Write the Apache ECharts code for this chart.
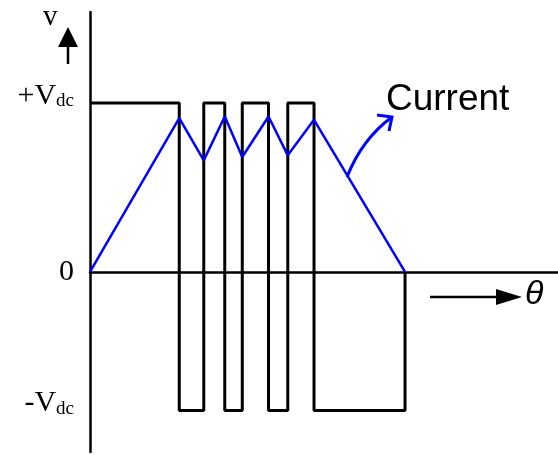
<!DOCTYPE html>
<html>
<head>
<meta charset="utf-8">
<script src="https://cdn.jsdelivr.net/npm/echarts@6.0.0/dist/echarts.min.js"></script>
<style>
  html, body { margin: 0; padding: 0; background: #fff; }
  #chart { width: 558px; height: 455px; }
</style>
</head>
<body>
<div id="chart"></div>
<script>
// switching angles (x units) and the inverter output level between them
const switchAngles = [0, 51, 65, 77, 87, 102, 113, 128, 180]
const voltageLevels = [1, -0.82, 1, -0.82, 1, -0.82, 1, -0.82]

// current waveform corners
const currentAngles = [0, 51, 65, 77, 87, 102, 113, 128, 180]
const currentValues = [0, 0.91, 0.66, 0.92, 0.68, 0.92, 0.69, 0.90, 0]

// y tick positions and labels
const yTickValues = [1, 0, -0.82]
const yTickLabels = ['+V|dc', '0', '-V|dc']

const voltageData = []
for (let i = 0; i < voltageLevels.length; i++) {
  voltageData.push([switchAngles[i], voltageLevels[i]])
  voltageData.push([switchAngles[i + 1], voltageLevels[i]])
}
voltageData.push([switchAngles[switchAngles.length - 1], 0])

const currentData = currentAngles.map((a, i) => [a, currentValues[i]])

const chart = echarts.init(document.getElementById('chart'))

chart.setOption({
  animation: false,
  grid: { left: 90, right: 0, top: 12, bottom: 3 },
  xAxis: {
    type: 'value',
    min: 0,
    max: 267.4,
    axisLine: { onZero: true, lineStyle: { color: '#000', width: 2.5 } },
    axisTick: { show: false },
    axisLabel: { show: false },
    splitLine: { show: false }
  },
  yAxis: {
    type: 'value',
    min: -1.065,
    max: 1.538,
    axisLine: { show: true, onZero: false, lineStyle: { color: '#000', width: 2.5 } },
    axisTick: { show: false },
    splitLine: { show: false },
    axisLabel: {
      customValues: yTickValues,
      margin: 16,
      formatter: (value) => {
        const label = yTickLabels[yTickValues.indexOf(value)]
        if (label === '0') return '{n|0}'
        const parts = label.split('|')
        return '{a|' + parts[0] + '}{b|' + parts[1] + '}'
      },
      rich: {
        n: { fontFamily: 'Liberation Serif', fontSize: 30, color: '#000' },
        a: { fontFamily: 'Liberation Serif', fontSize: 30, color: '#000', verticalAlign: 'bottom', padding: [0, 0, 14, 0] },
        b: { fontFamily: 'Liberation Serif', fontSize: 19, color: '#000', verticalAlign: 'bottom', padding: [0, 0, 14, 0] }
      }
    }
  },
  series: [
    {
      name: 'Voltage',
      type: 'line',
      data: voltageData,
      symbol: 'none',
      lineStyle: { color: '#000', width: 3 },
      z: 2
    },
    {
      name: 'Current',
      type: 'line',
      data: currentData,
      symbol: 'none',
      lineStyle: { color: '#0000ff', width: 2.5 },
      z: 3
    }
  ],
  graphic: [
    {
      type: 'text', left: 43, top: 3,
      style: { text: 'v', font: '29px "Liberation Serif"', fill: '#000' }
    },
    {
      type: 'line',
      shape: { x1: 68, y1: 64, x2: 68, y2: 44 },
      style: { stroke: '#000', lineWidth: 2.5 }
    },
    {
      type: 'polygon',
      shape: { points: [[68, 27], [58, 47], [78, 47]] },
      style: { fill: '#000' }
    },
    {
      type: 'line',
      shape: { x1: 430, y1: 297, x2: 500, y2: 297 },
      style: { stroke: '#000', lineWidth: 2.5 }
    },
    {
      type: 'polygon',
      shape: { points: [[522, 297], [496, 289], [496, 305]] },
      style: { fill: '#000' }
    },
    {
      type: 'text', left: 525, top: 278,
      style: { text: 'θ', font: 'italic 34px "Liberation Sans"', fill: '#000' }
    },
    {
      type: 'text', left: 386, top: 81,
      style: { text: 'Current', font: '37px "Liberation Sans"', fill: '#000' }
    },
    {
      type: 'bezierCurve',
      shape: { x1: 347, y1: 177, cpx1: 362, cpy1: 139, x2: 392, y2: 117 },
      style: { stroke: '#0000ff', lineWidth: 3, fill: null }
    },
    {
      type: 'polyline',
      shape: { points: [[377, 115], [392, 117], [389, 131]] },
      style: { stroke: '#0000ff', lineWidth: 3, fill: null }
    }
  ]
})
</script>
</body>
</html>
